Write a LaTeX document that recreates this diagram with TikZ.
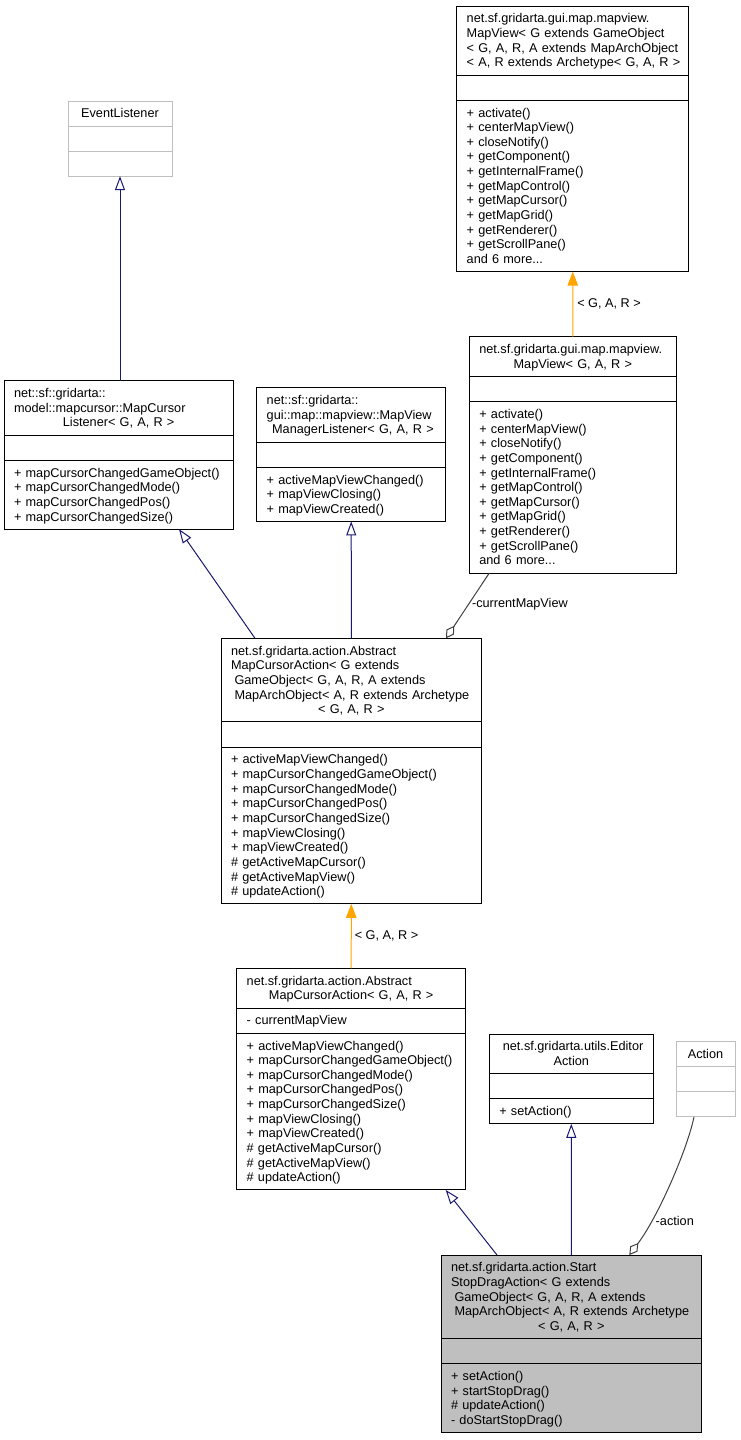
\documentclass[tikz,border=0pt]{standalone}
\usepackage{fontspec}
\setmainfont{Liberation Sans}
\usetikzlibrary{arrows.meta,positioning}
\definecolor{navy}{HTML}{191970}
\definecolor{grey75}{HTML}{BFBFBF}
\definecolor{grey25}{HTML}{404040}
\definecolor{torange}{HTML}{FFA500}
\newcommand\centred[1]{\hspace*{\fill}\mbox{#1}\hspace*{\fill}}
\newcommand\rowstrut{\rule[-2.9pt]{0pt}{14.65pt}}
\tikzset{
  cls/.style={draw, fill=white, line width=1pt, text width=#1, inner xsep=10pt, inner ysep=5.2pt, outer sep=0pt, align=left,
    font=\fontsize{12.7}{14.65}\selectfont, execute at begin node=\rowstrut, execute at end node=\rowstrut},
  grey/.style={draw=grey75},
  sel/.style={fill=grey75},
  inh/.style={navy, line width=1pt, -{Triangle[open,length=14pt,width=10pt]}},
  tmpl/.style={torange, line width=1pt, -{Triangle[length=14pt,width=10.5pt]}},
  assoc/.style={grey25, line width=1pt, -{Diamond[open,length=15pt,width=9pt]}},
  lbl/.style={font=\fontsize{12.7}{14.65}\selectfont, inner sep=0pt, text=black}
}
\begin{document}
\begin{tikzpicture}[x=1pt,y=-1pt]
\useasboundingbox (0,0) rectangle (741,1440);
\node[cls=212pt, anchor=north west] (mapview) at (456.7,6) {net.sf.gridarta.gui.map.mapview.\\MapView< G extends GameObject\\< G, A, R, A extends MapArchObject\\\mbox{< A, R extends Archetype< G, A, R >}};
\node[cls=212pt, below=0pt of mapview] (mapview-a) {};
\node[cls=212pt, below=0pt of mapview-a] (mapview-m) {+ activate()\\+ centerMapView()\\+ closeNotify()\\+ getComponent()\\+ getInternalFrame()\\+ getMapControl()\\+ getMapCursor()\\+ getMapGrid()\\+ getRenderer()\\+ getScrollPane()\\and 6 more...};
\node[cls=187pt, anchor=north west] (mapview2) at (469.3,336.7) {net.sf.gridarta.gui.map.mapview.\\\centred{MapView< G, A, R >}};
\node[cls=187pt, below=0pt of mapview2] (mapview2-a) {};
\node[cls=187pt, below=0pt of mapview2-a] (mapview2-m) {+ activate()\\+ centerMapView()\\+ closeNotify()\\+ getComponent()\\+ getInternalFrame()\\+ getMapControl()\\+ getMapCursor()\\+ getMapGrid()\\+ getRenderer()\\+ getScrollPane()\\and 6 more...};
\node[cls=84pt, grey, anchor=north west] (evl) at (68,101) {\centred{EventListener}};
\node[cls=84pt, grey, below=0pt of evl] (evl-a) {};
\node[cls=84pt, grey, below=0pt of evl-a] (evl-m) {};
\node[cls=209.3pt, anchor=north west] (mcl) at (4,380.7) {net::sf::gridarta::\\model::mapcursor::MapCursor\\\centred{Listener< G, A, R >}};
\node[cls=209.3pt, below=0pt of mcl] (mcl-a) {};
\node[cls=209.3pt, below=0pt of mcl-a] (mcl-m) {+ mapCursorChangedGameObject()\\+ mapCursorChangedMode()\\+ mapCursorChangedPos()\\+ mapCursorChangedSize()};
\node[cls=169pt, anchor=north west] (mvml) at (256.7,387.7) {net::sf::gridarta::\\gui::map::mapview::MapView\\\centred{\hspace*{3.5pt}ManagerListener< G, A, R >}};
\node[cls=169pt, below=0pt of mvml] (mvml-a) {};
\node[cls=169pt, below=0pt of mvml-a] (mvml-m) {+ activeMapViewChanged()\\+ mapViewClosing()\\+ mapViewCreated()};
\node[cls=240.7pt, anchor=north west] (amca1) at (221,638.3) {net.sf.gridarta.action.Abstract\\MapCursorAction< G extends\\\hspace*{3.5pt}GameObject< G, A, R, A extends\\\hspace*{3.5pt}MapArchObject< A, R extends Archetype\\\centred{< G, A, R >}};
\node[cls=240.7pt, below=0pt of amca1] (amca1-a) {};
\node[cls=240.7pt, below=0pt of amca1-a] (amca1-m) {+ activeMapViewChanged()\\+ mapCursorChangedGameObject()\\+ mapCursorChangedMode()\\+ mapCursorChangedPos()\\+ mapCursorChangedSize()\\+ mapViewClosing()\\+ mapViewCreated()\\\# getActiveMapCursor()\\\# getActiveMapView()\\\# updateAction()};
\node[cls=209pt, anchor=north west] (amca2) at (236.7,968.3) {net.sf.gridarta.action.Abstract\\\centred{MapCursorAction< G, A, R >}};
\node[cls=209pt, below=0pt of amca2] (amca2-a) {- currentMapView};
\node[cls=209pt, below=0pt of amca2-a] (amca2-m) {+ activeMapViewChanged()\\+ mapCursorChangedGameObject()\\+ mapCursorChangedMode()\\+ mapCursorChangedPos()\\+ mapCursorChangedSize()\\+ mapViewClosing()\\+ mapViewCreated()\\\# getActiveMapCursor()\\\# getActiveMapView()\\\# updateAction()};
\node[cls=144pt, anchor=north west] (editor) at (489.3,1034) {\centred{net.sf.gridarta.utils.Editor}\\\centred{Action}};
\node[cls=144pt, below=0pt of editor] (editor-a) {};
\node[cls=144pt, below=0pt of editor-a] (editor-m) {+ setAction()};
\node[cls=39pt, grey, anchor=north west] (action) at (676,1041.7) {\centred{Action}};
\node[cls=39pt, grey, below=0pt of action] (action-a) {};
\node[cls=39pt, grey, below=0pt of action-a] (action-m) {};
\node[cls=240.7pt, sel, anchor=north west] (ssd) at (441,1255) {net.sf.gridarta.action.Start\\StopDragAction< G extends\\\hspace*{3.5pt}GameObject< G, A, R, A extends\\\hspace*{3.5pt}MapArchObject< A, R extends Archetype\\\centred{< G, A, R >}};
\node[cls=240.7pt, sel, below=0pt of ssd] (ssd-a) {};
\node[cls=240.7pt, sel, below=0pt of ssd-a] (ssd-m) {+ setAction()\\+ startStopDrag()\\\# updateAction()\\- doStartStopDrag()};
\draw[inh] (evl-m.south |- mcl.north) -- (evl-m.south);
\draw[inh] ([xshift=34pt]amca1.north west) -- ([xshift=175pt]mcl-m.south west);
\draw[inh] (amca1) -- (mvml-m);
\draw[tmpl] (mapview2) -- (mapview-m) node[lbl, midway, right=4pt] (l1) {< G, A, R >};
\draw[assoc] ([xshift=20pt]mapview2-m.south west) -- ([xshift=-35.7pt]amca1.north east) node[lbl, pos=0.48, right=3pt] (l2) {-currentMapView};
\draw[tmpl] (amca2) -- (amca1-m) node[lbl, midway, right=3pt] (l3) {< G, A, R >};
\draw[inh] ([xshift=56pt]ssd.north west) -- ([xshift=209pt]amca2-m.south west);
\draw[inh] (ssd) -- (editor-m);
\draw[assoc] ([xshift=-11.5pt]action-m.south) .. controls +(-6,30) and +(30,-40) .. ([xshift=-72.4pt]ssd.north east) node[lbl, pos=0.75, right=4pt] (l4) {-action};
\end{tikzpicture}
\end{document}
